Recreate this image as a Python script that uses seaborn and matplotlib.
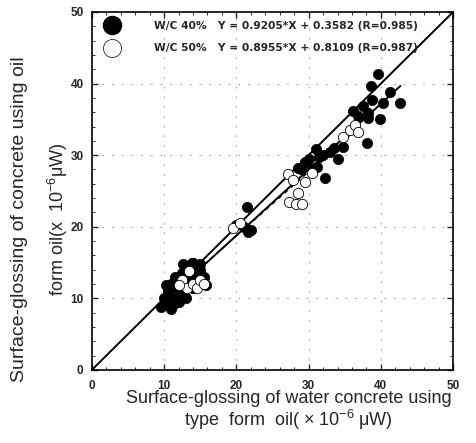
import numpy as np
import pandas as pd
import matplotlib
matplotlib.use("Agg")
import matplotlib.pyplot as plt
import seaborn as sns
from matplotlib.lines import Line2D

# ---- data ----
wc40_x = [9.5, 10.0, 10.2, 10.5, 10.8, 11.0, 11.2, 11.5, 11.8, 12.0, 12.2, 12.5, 12.8, 13.0,
          13.2, 13.5, 13.8, 14.0, 14.2, 14.5, 14.8, 15.0, 15.2, 15.5, 15.8, 13.0, 12.0, 11.0,
          14.0, 15.0, 10.3, 12.6,
          20.0, 21.0, 21.5, 22.0, 21.6,
          28.5, 29.0, 29.5, 30.0, 30.5, 31.0, 31.5, 32.0, 32.3, 33.0, 33.5, 34.0, 34.8, 31.2,
          36.2, 38.2, 38.2, 39.9, 38.8, 40.3, 42.7, 41.3, 38.6, 39.6, 38.1, 37.5, 36.8]
wc40_y = [8.8, 10.0, 9.5, 11.0, 10.2, 12.0, 9.0, 13.0, 11.5, 10.5, 12.5, 13.5, 11.0, 14.5,
          12.0, 13.0, 15.0, 11.5, 14.0, 12.5, 13.5, 14.8, 12.0, 13.0, 11.8, 10.0, 9.5, 8.5,
          15.0, 14.0, 11.8, 14.8,
          20.3, 20.0, 22.8, 19.5, 19.2,
          28.2, 28.0, 29.0, 29.5, 28.0, 30.8, 29.8, 30.0, 26.8, 30.5, 31.0, 29.5, 31.1, 28.4,
          36.2, 35.9, 35.2, 35.1, 37.7, 37.3, 37.3, 38.8, 39.7, 41.3, 31.7, 36.8, 35.5]

wc50_x = [12.5, 13.2, 14.0, 14.5, 15.0, 13.5, 12.0, 15.5,
          19.5, 20.5,
          27.1, 27.8, 29.5, 30.5, 28.5, 27.3, 28.3, 29.1,
          34.8, 35.7, 36.4, 36.8]
wc50_y = [12.5, 11.5, 12.0, 11.5, 12.5, 13.8, 11.8, 12.0,
          19.8, 20.5,
          27.4, 26.5, 26.3, 27.5, 24.7, 23.5, 23.2, 23.2,
          32.5, 33.5, 34.2, 33.2]

fit40 = [0.9205, 0.3582]   # slope, intercept
fit50 = [0.8955, 0.8109]
legend_labels = ["W/C 40%   Y = 0.9205*X + 0.3582 (R=0.985)",
                 "W/C 50%   Y = 0.8955*X + 0.8109 (R=0.987)"]
ticks = [0, 10, 20, 30, 40, 50]
xlabel_text = "Surface-glossing of water concrete using\ntype  form  oil( × 10$^{-6}$ μW)"
ylabel_line1 = "Surface-glossing of concrete using oil"
ylabel_line2 = "form oil(x  10$^{-6}$μW)"

sns.set_style("white")
plt.rcParams['font.family'] = ['Liberation Sans', 'DejaVu Sans']
plt.rcParams['mathtext.fontset'] = 'custom'
plt.rcParams['mathtext.rm'] = 'Liberation Sans'

fig = plt.figure(figsize=(4.76, 4.43), dpi=100)
ax = fig.add_axes([0.193, 0.165, 0.759, 0.808])

df40 = pd.DataFrame({"x": wc40_x, "y": wc40_y})
df50 = pd.DataFrame({"x": wc50_x, "y": wc50_y})

# identity line
ident = pd.DataFrame({"x": [0, 50], "y": [0, 50]})
sns.lineplot(data=ident, x="x", y="y", ax=ax, color="black", lw=1.4)

# regression lines
xr40 = np.array([min(wc40_x), max(wc40_x)])
sns.lineplot(x=xr40, y=fit40[0] * xr40 + fit40[1], ax=ax, color="black", lw=1.4)
xr50 = np.array([min(wc50_x), max(wc50_x)])
sns.lineplot(x=xr50, y=fit50[0] * xr50 + fit50[1], ax=ax, color="black", lw=1.0,
             linestyle=(0, (3, 3)))

sns.scatterplot(data=df40, x="x", y="y", ax=ax, s=55, color="black",
                edgecolor="black", linewidth=0.5, zorder=3)
sns.scatterplot(data=df50, x="x", y="y", ax=ax, s=55, facecolor="white",
                edgecolor="black", linewidth=0.6, zorder=4)

ax.set_xlim(0, 50)
ax.set_ylim(0, 50)
ax.set_xticks(ticks)
ax.set_yticks(ticks)
ax.set_xticks(np.arange(0, 51, 2), minor=True)
ax.set_yticks(np.arange(0, 51, 2), minor=True)
ax.tick_params(which="major", direction="in", length=4, width=1, labelsize=8.5)
ax.tick_params(which="minor", direction="in", length=2, width=0.7)
ax.tick_params(axis="both", which="both", top=True, right=True, bottom=True, left=True,
               labeltop=False, labelright=False)
for lab in ax.get_xticklabels() + ax.get_yticklabels():
    lab.set_fontweight("bold")
ax.tick_params(axis="x", pad=7)
ax.tick_params(axis="y", pad=6)

for g in [10, 20, 30, 40]:
    ax.axvline(g, color="#aaaaaa", lw=0.7, linestyle=(0, (2, 8)), zorder=0)
    ax.axhline(g, color="#aaaaaa", lw=0.7, linestyle=(0, (2, 8)), zorder=0)

for sp in ax.spines.values():
    sp.set_color("black")
    sp.set_linewidth(1.2)

ax.set_xlabel(xlabel_text, fontsize=13, linespacing=1.05)
ax.xaxis.set_label_coords(0.545, -0.057)
ax.xaxis.label.set_va("top")
ax.set_ylabel("")
fig.text(0.040, 0.505, ylabel_line1, rotation=90, ha="center", va="center", fontsize=14)
fig.text(0.122, 0.505, ylabel_line2, rotation=90, ha="center", va="center", fontsize=13)

handles = [Line2D([], [], marker="o", color="black", linestyle="", markersize=13),
           Line2D([], [], marker="o", markerfacecolor="white", markeredgecolor="black",
                  linestyle="", markersize=13, markeredgewidth=0.5)]
leg = ax.legend(handles, legend_labels, loc="upper left", frameon=False,
                handletextpad=3.0, borderaxespad=0.45, labelspacing=1.15,
                bbox_to_anchor=(0.0, 1.0), prop={"family": "DejaVu Sans", "weight": "bold",
                                                 "size": 7.7})

fig.savefig("out.png", dpi=100)
